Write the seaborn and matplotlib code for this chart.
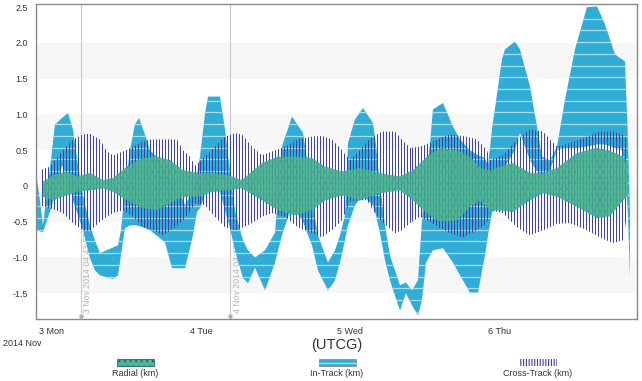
##################################################################################################
#                         RIC DIFFERENCE ENVELOPES  (STK-style report chart)                     #
##################################################################################################

import numpy as np
import matplotlib
matplotlib.use("Agg")
import matplotlib.pyplot as plt
import matplotlib.transforms as mtransforms
from matplotlib.path import Path
from matplotlib.patches import Rectangle
import seaborn as sns

##################################################################################################
#                                              DATA                                              #
# Times are hours after 2014-11-03 00:00 UTCG, values in km.            #
##################################################################################################

intrack_hours = [-2.36, -1.40, -0.27, 0.53, 1.66, 2.62, 3.42, 4.23, 5.03, 6.16, 6.96, 7.76, 9.85,
                 10.66, 11.14, 11.78, 12.59, 13.39, 14.03, 15.00, 15.80, 17.41, 18.21, 19.34,
                 21.43, 22.71, 23.36, 23.84, 24.64, 25.13, 27.05, 27.86, 28.66, 29.47, 30.75,
                 31.56, 32.68, 34.29, 35.90, 37.02, 38.63, 40.40, 41.20, 41.84, 42.81, 44.41,
                 45.54, 46.34, 47.15, 47.63, 48.75, 50.04, 51.65, 52.13, 52.77, 53.58, 54.38,
                 55.99, 56.95, 57.92, 58.88, 59.52, 60.17, 60.81, 61.29, 62.90, 64.51, 65.64,
                 67.24, 68.53, 69.65, 70.14, 70.78, 72.38, 72.87, 74.47, 75.28, 76.89, 78.01,
                 78.82, 80.10, 81.23, 82.52, 84.12, 86.05, 87.66, 88.95, 90.55, 91.68, 92.16,
                 92.64, 92.96]
intrack_upper = [0.11, -0.55, 0.25, 0.86, 0.95, 1.02, 0.79, 0.29, -0.13, -0.55, -0.76, -0.94, -0.86,
                 -0.83, -0.62, -0.06, 0.50, 0.86, 0.95, 0.72, 0.50, 0.36, 0.29, 0.20,
                 -0.27, -0.06, 0.18, 0.41, 1.00, 1.25, 1.25, 0.79, 0.22, -0.34, -0.76,
                 -0.90, -1.00, -0.90, -0.65, 0.55, 0.97, 0.74, 0.29, -0.20, -0.69, -1.07,
                 -0.90, -0.69, -0.41, 0.60, 0.93, 1.09, 0.88, 0.58, 0.01, -0.55, -0.97,
                 -1.39, -1.35, -1.46, -1.32, -0.48, 0.15, 0.58, 1.07, 1.16, 0.83, 0.65,
                 0.50, 0.43, 0.39, 0.29, 0.79, 1.77, 1.91, 2.02, 1.91, 1.39, 0.83,
                 0.41, 0.36, 0.55, 1.21, 1.91, 2.50, 2.51, 2.26, 1.84, 1.77, 1.74,
                 0.65, -0.34]
intrack_lower = [-0.62, -0.65, -0.36, -0.13, 0.29, 0.08, -0.20, -0.41, -0.62, -1.01, -1.18, -1.25, -1.30,
                 -1.25, -0.97, -0.59, -0.55, -0.55, -0.56, -0.59, -0.62, -0.73, -0.79, -1.15,
                 -1.15, -0.69, -0.36, -0.31, -0.13, -0.06, -0.08, -0.34, -0.59, -0.90, -1.29,
                 -1.36, -1.14, -1.46, -1.07, -0.69, -0.27, -0.50, -0.69, -0.83, -1.18, -1.46,
                 -1.32, -1.07, -0.76, -0.55, -0.27, -0.13, -0.27, -0.41, -0.66, -1.04, -1.32,
                 -1.74, -1.50, -1.67, -1.81, -1.60, -1.07, -0.97, -0.90, -0.87, -1.07, -1.25,
                 -1.49, -1.49, -0.97, -0.69, -0.38, -0.03, 0.27, 0.50, 0.74, 0.36, 0.20,
                 0.11, 0.22, 0.50, 0.53, 0.53, 0.55, 0.58, 0.58, 0.53, 0.50, 0.29,
                 -0.41, -1.28]

crosstrack_hours = [-1.88, -0.27, 1.82, 3.42, 5.03, 6.16, 7.76, 8.89, 9.85, 11.46, 13.07, 14.68,
                    15.80, 17.89, 20.14, 21.11, 22.23, 23.04, 24.64, 26.25, 27.86, 29.47, 30.59,
                    32.20, 33.81, 35.41, 37.50, 39.59, 41.84, 43.45, 45.06, 46.67, 47.95, 49.56,
                    50.68, 51.65, 53.10, 55.19, 56.31, 57.60, 59.20, 60.81, 62.42, 64.03, 66.12,
                    68.37, 69.97, 70.46, 72.54, 74.80, 76.89, 78.98, 80.10, 81.23, 83.32, 86.05,
                    88.14, 90.23, 91.84, 92.48]
crosstrack_upper = [0.22, 0.27, 0.50, 0.65, 0.72, 0.73, 0.65, 0.48, 0.43, 0.48, 0.55, 0.62,
                    0.65, 0.65, 0.65, 0.50, 0.41, 0.28, 0.41, 0.55, 0.69, 0.74, 0.72,
                    0.55, 0.43, 0.48, 0.55, 0.65, 0.69, 0.70, 0.65, 0.50, 0.36, 0.50,
                    0.62, 0.69, 0.76, 0.76, 0.65, 0.53, 0.55, 0.60, 0.67, 0.72, 0.70,
                    0.65, 0.50, 0.36, 0.43, 0.65, 0.79, 0.76, 0.65, 0.55, 0.60, 0.69,
                    0.76, 0.76, 0.72, 0.65]
crosstrack_lower = [-0.27, -0.31, -0.38, -0.52, -0.62, -0.63, -0.50, -0.43, -0.38, -0.34, -0.43, -0.58,
                    -0.60, -0.69, -0.56, -0.48, -0.36, -0.24, -0.27, -0.43, -0.58, -0.62, -0.59,
                    -0.52, -0.43, -0.38, -0.43, -0.58, -0.66, -0.72, -0.62, -0.48, -0.22, -0.20,
                    -0.20, -0.34, -0.50, -0.66, -0.62, -0.52, -0.43, -0.50, -0.59, -0.66, -0.72,
                    -0.62, -0.52, -0.34, -0.38, -0.58, -0.69, -0.62, -0.58, -0.53, -0.52, -0.62,
                    -0.72, -0.80, -0.76, -0.41]

radial_hours = [-1.40, 0.21, 2.46, 4.07, 6.16, 8.25, 9.85, 12.10, 14.68, 16.93, 19.02, 21.11,
                23.52, 25.77, 28.34, 30.59, 33.81, 36.38, 39.11, 41.84, 43.93, 46.67, 49.56,
                52.77, 55.99, 58.08, 60.33, 62.42, 65.15, 67.24, 68.85, 70.46, 72.06, 74.15,
                76.89, 78.98, 81.23, 84.44, 87.66, 89.75, 91.84, 92.64]
radial_upper = [0.06, 0.15, 0.20, 0.13, 0.18, 0.08, 0.11, 0.27, 0.39, 0.41, 0.36, 0.22,
                0.18, 0.18, 0.15, 0.08, 0.32, 0.41, 0.41, 0.39, 0.27, 0.20, 0.25,
                0.18, 0.13, 0.22, 0.41, 0.53, 0.50, 0.41, 0.25, 0.22, 0.27, 0.32,
                0.18, 0.18, 0.25, 0.46, 0.53, 0.49, 0.41, 0.29]
radial_lower = [-0.15, -0.20, -0.13, -0.08, -0.06, -0.03, -0.08, -0.20, -0.31, -0.34, -0.24, -0.15,
                -0.15, -0.08, -0.06, -0.03, -0.20, -0.34, -0.41, -0.34, -0.20, -0.13, -0.20,
                -0.10, -0.06, -0.20, -0.38, -0.50, -0.48, -0.29, -0.20, -0.34, -0.34, -0.36,
                -0.20, -0.10, -0.15, -0.29, -0.45, -0.42, -0.20, -0.13]

day_ticks = [0, 24, 48, 72]
day_labels = ["3 Mon", "4 Tue", "5 Wed", "6 Thu"]
event_hours = [4.733, 28.733]
event_labels = ["3 Nov 2014 04:43:58", "4 Nov 2014 04:43:58"]
legend_labels = ["Radial (km)", "In-Track (km)", "Cross-Track (km)"]

##################################################################################################
#                                             STYLE                                              #
##################################################################################################

sns.set_theme(style="white")
plt.rcParams["font.family"] = ["Liberation Sans", "DejaVu Sans"]
plt.rcParams["hatch.linewidth"] = 0.8

BLUE = "#31acd6"
BLUE_STRIPE = "#a6def0"
NAVY = "#3a3fa3"
GREEN = "#4cb892"
GREEN_DOT = "#2a5f72"
AXIS_GRAY = "#8a8a8a"
TEXT = "#333333"

W, H = 642, 381
fig = plt.figure(figsize=(W / 100, H / 100), dpi=100)
ax = fig.add_axes([35.7 / W, 1 - 319 / H, 601 / W, 314.7 / H])
ax.set_xlim(-2.57, 94.04)
ax.set_ylim(-1.86, 2.54)

# alternating light bands
for lo, hi in [(1.5, 2.0), (0.5, 1.0), (-0.5, 0.0), (-1.5, -1.0)]:
    ax.axhspan(lo, hi, color="#f7f7f7", lw=0, zorder=0)

# event markers
for xh, lab in zip(event_hours, event_labels):
    ax.axvline(xh, color="#c9c9c9", lw=0.8, zorder=1)
    ax.plot([xh], [-1.82], "o", ms=2.2, color="#b0b0b0", zorder=1, clip_on=False)
    off = mtransforms.offset_copy(ax.transData, fig=fig, x=1.5, y=0, units="points")
    ax.text(xh, -1.78, lab, rotation=90, ha="left", va="bottom", fontsize=6.3,
            color="#b5b5b5", transform=off, zorder=1)

##################################################################################################
#                                          SERIES                                                #
##################################################################################################

# In-Track: solid blue band with pale horizontal stripes
blue = ax.fill_between(intrack_hours, intrack_lower, intrack_upper, facecolor=BLUE,
                       edgecolor="none", lw=0, zorder=2)
blue_path = Path.make_compound_path(*blue.get_paths())
stripes = ax.hlines(np.arange(2.34, -1.9, -0.164), -3, 95, colors=BLUE_STRIPE, lw=0.9, zorder=2.1)
stripes.set_clip_path(blue_path, ax.transData)

# Radial: green band with dark dots, partly showing the verticals through it
ax.fill_between(radial_hours, radial_lower, radial_upper, facecolor=GREEN, edgecolor=GREEN_DOT,
                hatch="...", lw=0, alpha=0.9, zorder=2.5)

# Cross-Track: dense navy verticals inside the envelope
cross = ax.fill_between(crosstrack_hours, crosstrack_lower, crosstrack_upper, facecolor="none",
                        edgecolor="none", lw=0, zorder=3)
cross_path = Path.make_compound_path(*cross.get_paths())
verticals = ax.vlines(np.arange(-2.0, 93.0, 0.48), -1.0, 1.0, colors=NAVY, lw=0.7, zorder=3)
verticals.set_clip_path(cross_path, ax.transData)

# white gaps between the verticals where the radial band sits on top
ax.fill_between(radial_hours, radial_lower, radial_upper, facecolor=GREEN, edgecolor="none",
                lw=0, alpha=0.75, zorder=3.5)

##################################################################################################
#                                            AXES                                                #
##################################################################################################

ax.set_xticks(day_ticks)
ax.set_xticklabels(day_labels)
ax.set_yticks(np.arange(-1.5, 2.51, 0.5))
ax.set_yticklabels(["0" if abs(v) < 1e-9 else f"{v:.1f}" for v in np.arange(-1.5, 2.51, 0.5)])
ax.set_yticks(np.arange(-1.8, 2.55, 0.1), minor=True)
ax.tick_params(axis="y", which="major", direction="inout", length=8.5, width=0.8,
               color=AXIS_GRAY, labelsize=6.5, labelcolor=TEXT, pad=1.5)
ax.tick_params(axis="y", which="minor", direction="in", length=4, width=0.8, color=AXIS_GRAY)
ax.tick_params(axis="x", which="major", direction="inout", length=7, width=0.8,
               color=AXIS_GRAY, labelsize=6.5, labelcolor=TEXT, pad=2)
for side in ["left", "right", "top", "bottom"]:
    ax.spines[side].set_color(AXIS_GRAY)
    ax.spines[side].set_linewidth(1.0)
    ax.spines[side].set_visible(True)

fig.text(3 / W, 1 - 343.5 / H, "2014 Nov", fontsize=6.5, color=TEXT, ha="left", va="center")
fig.text(337 / W, 1 - 345 / H, "(UTCG)", fontsize=10.5, color=TEXT, ha="center", va="center")

##################################################################################################
#                                           LEGEND                                               #
##################################################################################################

sw_y, sw_h, sw_w = 1 - 366 / H, 7 / H, 37 / W
centers = [135, 337, 538]
fig.add_artist(Rectangle((centers[0] / W - sw_w / 2, sw_y), sw_w, sw_h, transform=fig.transFigure,
                         facecolor=GREEN, edgecolor=GREEN_DOT, hatch="...", lw=0.6))
fig.add_artist(Rectangle((centers[1] / W - sw_w / 2, sw_y), sw_w, sw_h, transform=fig.transFigure,
                         facecolor=BLUE, edgecolor="#8a8a8a", lw=0.6))
fig.add_artist(plt.Line2D([centers[1] / W - sw_w / 2, centers[1] / W + sw_w / 2],
                          [sw_y + sw_h / 2] * 2, transform=fig.transFigure, color=BLUE_STRIPE, lw=1.0))
fig.add_artist(Rectangle((centers[2] / W - sw_w / 2, sw_y), sw_w, sw_h, transform=fig.transFigure,
                         facecolor="none", edgecolor=NAVY, hatch="||||||", lw=0))
for cx, lab in zip(centers, legend_labels):
    fig.text(cx / W, 1 - 373 / H, lab, fontsize=6.5, color=TEXT, ha="center", va="center")

fig.savefig("out.png", dpi=100)
